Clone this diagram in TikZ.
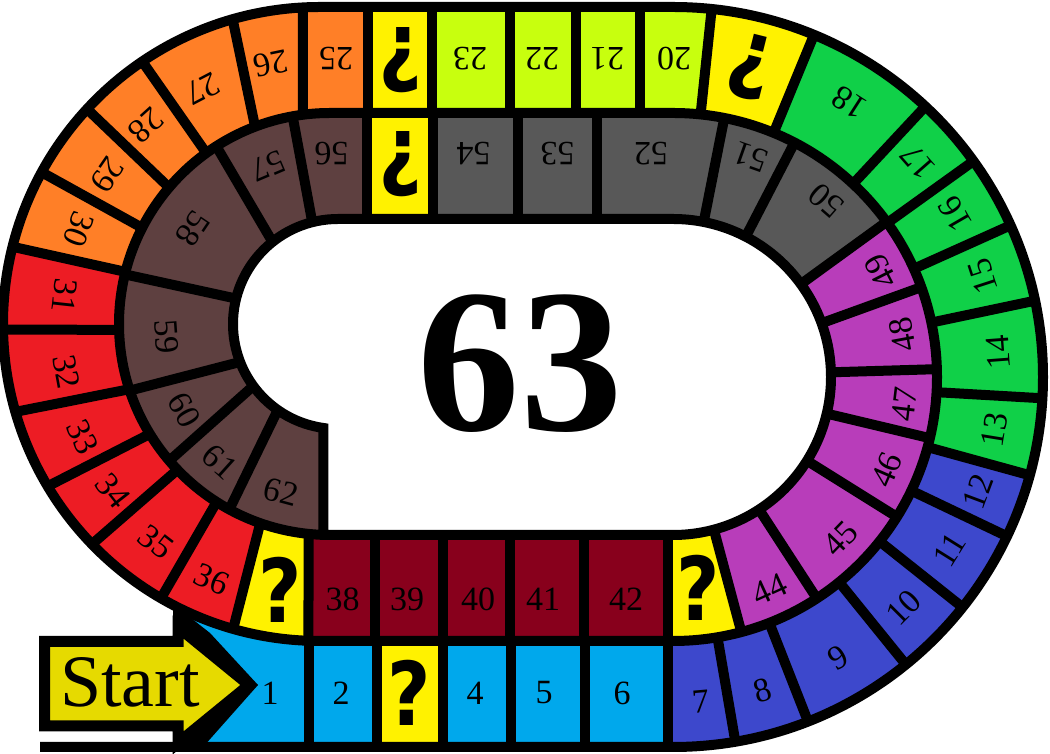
\documentclass[tikz,border=0pt]{standalone}
\usepackage{fontspec}
\usepackage{graphicx}
\setmainfont{Liberation Serif}
\newfontfamily\qfont{DejaVu Sans}
\usetikzlibrary{calc}
\definecolor{sky}{RGB}{0,168,236}
\definecolor{indigo}{RGB}{61,72,204}
\definecolor{grass}{RGB}{16,208,72}
\definecolor{lemon}{RGB}{255,242,0}
\definecolor{limey}{RGB}{200,255,14}
\definecolor{tangerine}{RGB}{255,127,39}
\definecolor{scarlet}{RGB}{237,28,36}
\definecolor{wine}{RGB}{136,0,28}
\definecolor{orchid}{RGB}{184,61,186}
\definecolor{slate}{RGB}{88,88,88}
\definecolor{cocoa}{RGB}{94,64,64}
\definecolor{mustard}{RGB}{230,218,0}
\tikzset{
  rim/.style={draw=black,line width=10pt,line join=miter},
  num/.style={inner sep=0pt,font=\fontsize{34}{34}\selectfont},
  qm/.style={inner sep=0pt,font=\qfont\bfseries\fontsize{88}{88}\selectfont},
}
\newcommand\rband[5]{\fill[#1] ($(CR)+(#4:#2)$) arc[start angle=#4,end angle=#5,radius=#2] -- ($(CR)+(#5:#3)$) arc[start angle=#5,end angle=#4,radius=#3] -- cycle;}
\newcommand\qsign{\scalebox{0.85}[1]{?}}

\begin{document}
\begin{tikzpicture}[x=1pt,y=1pt]
\useasboundingbox (0,0) rectangle (1050,754);
\fill[white] (0,0) rectangle (1050,754);
\coordinate (CR) at (673,377);
\coordinate (La) at (320,430);
\coordinate (Lb) at (330,430);
\coordinate (Lc) at (338,430);
\coordinate (Lm) at (325,430);

\fill[sky] (185,7) -- (377,7) -- (377,113) -- (320,113) arc[start angle=270,end angle=244,radius=317] -- cycle;
\fill[lemon] (377,7) rectangle (443,113);
\fill[sky] (443,7) rectangle (668,113);
\fill[indigo] (668,7) -- (673,7) arc[start angle=-90,end angle=-15.4,radius=370] -- ($(CR)+(-15.4:264)$) arc[start angle=-15.4,end angle=-90,radius=264] -- (668,113) -- cycle;
\rband{grass}{370}{264}{-15.4}{67.6}
\rband{lemon}{370}{264}{67.6}{84}
\fill[limey] ($(CR)+(84:370)$) arc[start angle=84,end angle=90,radius=370] -- (432,747) -- (432,641) -- (673,641) arc[start angle=90,end angle=84,radius=264] -- cycle;
\fill[lemon] (368,641) rectangle (432,747);
\fill[tangerine] (368,747) -- (320,747) arc[start angle=90,end angle=165.9,radius=317] -- ($(Lb)+(165.7:211)$) arc[start angle=165.7,end angle=90,radius=211] -- (368,641) -- cycle;
\fill[scarlet] ($(La)+(165.9:317)$) arc[start angle=165.9,end angle=254.1,radius=317] -- ($(Lb)+(250.7:211)$) arc[start angle=250.7,end angle=165.7,radius=211] -- cycle;
\fill[lemon] ($(La)+(254.1:317)$) arc[start angle=254.1,end angle=267.9,radius=317] -- ($(Lb)+(264.2:211)$) arc[start angle=264.2,end angle=250.7,radius=211] -- cycle;
\fill[wine] (308.5,113) rectangle (668,219);
\fill[lemon] (668,113) -- (673,113) arc[start angle=-90,end angle=-75,radius=264] -- ($(CR)+(-75:158)$) arc[start angle=-75,end angle=-90,radius=158] -- (668,219) -- cycle;
\rband{orchid}{264}{158}{-75}{36}
\fill[slate] ($(CR)+(36:264)$) arc[start angle=36,end angle=90,radius=264] -- (433,641) -- (433,535) -- (673,535) arc[start angle=90,end angle=36,radius=158] -- cycle;
\fill[lemon] (367,535) rectangle (433,641);
\fill[cocoa] (367,641) -- (330,641) arc[start angle=90,end angle=268.2,radius=211] -- ($(Lc)+(262:105)$) arc[start angle=262,end angle=90,radius=105] -- (367,535) -- cycle;

\fill[black] (173,150) -- (210,121) -- (258,69) -- (203,7) -- (173,7) -- cycle;
\draw[line width=11pt,line join=miter,fill=mustard] (44.5,28) -- (44.5,112.5) -- (178,112.5) -- (178,127) -- (249,69) -- (178,11) -- (178,28) -- cycle;
\node[anchor=base,inner sep=0pt,font=\fontsize{74}{74}\selectfont] (start) at (130,47) {Start};

\draw[rim] (40,7) -- (673,7) arc[start angle=-90,end angle=90,radius=370] -- (320,747) arc[start angle=90,end angle=270,radius=317] -- (673,113) arc[start angle=-90,end angle=90,radius=264] -- (330,641) arc[start angle=90,end angle=270,radius=211] -- (673,219) arc[start angle=-90,end angle=90,radius=158] -- (338,535) arc[start angle=90,end angle=262,radius=105] -- (323.4,219);

\foreach \x in {308.5,377,443,511,584.5,668}
  \draw[rim] (\x,7) -- (\x,113);
\foreach \a in {-80.3,-68.6,-51,-38.5,-25.5,-15.4,-3.3,11.9,24.2,35.7,47,67.6,84}
  \draw[rim] ($(CR)+(\a:264)$) -- ($(CR)+(\a:370)$);
\foreach \x in {640,576,510,432,368}
  \draw[rim] (\x,641) -- (\x,747);
\foreach \o/\i in {93.1/97.4,106/110.8,124.1/125.9,137.3/139.7,151.4/152.9,165.9/165.7,181/181.6,196.1/198,210.8/211.4,224/223.7,239.9/237.5,254.1/250.7,267.9/264.2}
  \draw[rim] ($(La)+(\o:317)$) -- ($(Lb)+(\i:211)$);
\foreach \x in {375,442.5,510,584,668}
  \draw[rim] (\x,113) -- (\x,219);
\foreach \a in {-75,-57,-32,-13.4,1.7,19.9,36,62.6,78.8}
  \draw[rim] ($(CR)+(\a:158)$) -- ($(CR)+(\a:264)$);
\foreach \x in {597,518,433,367}
  \draw[rim] (\x,535) -- (\x,641);
\foreach \o/\i in {100.2/104.2,122.6/128.6,166.4/166,198.4/201.2,220.4/216.2,241.5/235}
  \draw[rim] ($(Lb)+(\o:211)$) -- ($(Lc)+(\i:105)$);

\foreach \n/\x in {1/270,2/341,4/475,5/544,6/622}
  \node[num] (c\n) at (\x,61) {\n};
\foreach \n/\a in {7/-85,8/-74,9/-59.5,10/-45,11/-32,12/-20.5,13/-9.3,14/4.3,15/18,16/30,17/41.3,18/57.3}
  \node[num,rotate=\a+90] (c\n) at ($(CR)+(\a:326)$) {\n};
\foreach \n/\x in {20/674,21/607,22/542,23/470,25/336}
  \node[num,rotate=180] (c\n) at (\x,695) {\n};
\foreach \n/\a/\r in {26/101.7/266,27/117.5/265,28/132/267,29/145.5/264,30/159/264,31/173.8/262,32/190.5/263,33/205/267,34/218.2/270,35/232.2/276,36/246/279}
  \node[num,rotate=\a+90] (c\n) at ($(Lm)+(\a:\r)$) {\n};
\foreach \n/\x in {38/342.5,39/407,40/478,41/543,42/626}
  \node[num] (c\n) at (\x,155) {\n};
\foreach \n/\a in {44/-65.5,45/-44,46/-23.5,47/-6.8,48/10.5,49/27,50/49,51/70.5}
  \node[num,rotate=\a+90] (c\n) at ($(CR)+(\a:233)$) {\n};
\foreach \n/\x in {52/651,53/557.5,54/473.5,56/331.5}
  \node[num,rotate=180] (c\n) at (\x,600) {\n};
\foreach \n/\x/\y/\r in {57/268/588/203,58/193/525/236,59/167/417/274,60/184/344/299,61/220/292/318,62/281/262/345}
  \node[num,rotate=\r] (c\n) at (\x,\y) {\n};

\node[qm] (q3) at (409.5,61) {\qsign};
\node[qm,rotate=166] (q19) at ($(CR)+(76:320)$) {\qsign};
\node[qm,rotate=180] (q24) at (401,693.5) {\qsign};
\node[qm] (q37) at (280,164) {\qsign};
\node[qm] (q43) at (698,166) {\qsign};
\node[qm,rotate=180] (q55) at (401,590) {\qsign};

\node[anchor=base,inner sep=0pt,font=\bfseries\fontsize{205}{205}\selectfont] (goal) at (520,323) {63};
\end{tikzpicture}
\end{document}
